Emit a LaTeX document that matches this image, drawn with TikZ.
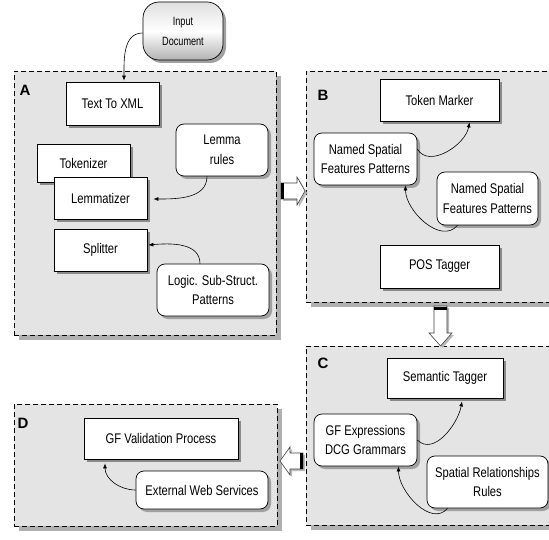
\documentclass[tikz,border=0pt]{standalone}
\usepackage{fontspec}
\setmainfont[FakeStretch=0.8]{Liberation Sans}
\newfontfamily\labfont{Liberation Sans}
\newfontfamily\smallfont[FakeStretch=0.76]{Liberation Sans}
\usetikzlibrary{shadows,arrows.meta}
\definecolor{panelfill}{HTML}{E4E4E4}
\definecolor{panelshadow}{HTML}{B0B0B0}
\definecolor{boxshadow}{HTML}{8A8A8A}
\definecolor{rboxshadow}{HTML}{A0A0A0}
\newcommand\dfont{\fontsize{14}{19.5}\selectfont}
\newcommand\sfont{\smallfont\fontsize{12}{20}\selectfont}
\begin{document}
\begin{tikzpicture}[x=1pt,y=-1pt,
  panel/.style={draw=black, fill=panelfill, line width=0.6pt, dash pattern=on 5pt off 3pt,
    drop shadow={shadow xshift=5pt, shadow yshift=-5pt, fill=panelshadow, opacity=1},
    inner sep=0pt},
  box/.style={draw=black, fill=white, line width=0.8pt, inner sep=0pt, align=center, font=\dfont,
    drop shadow={shadow xshift=3pt, shadow yshift=-3pt, fill=boxshadow, opacity=1}},
  rbox/.style={draw=black, fill=white, line width=0.7pt, inner sep=0pt, align=center, font=\dfont,
    rounded corners=8pt,
    drop shadow={shadow xshift=3pt, shadow yshift=-3pt, fill=rboxshadow, opacity=1}},
  lab/.style={font=\labfont\bfseries\fontsize{15}{15}\selectfont, inner sep=0pt},
  conn/.style={-{Latex[length=5pt,width=4pt]}, line width=0.6pt, black},
  blockarrow/.style={fill=white, draw=black!75, line width=0.6pt},
  blockshadow/.style={fill=gray!55, draw=none},
  tail/.style={line width=3pt, black}]
\useasboundingbox (0,0) rectangle (549,540);
\clip (0,0) rectangle (549,540);
\fill[white] (0,0) rectangle (549,540);

% panels
\node[panel, minimum width=262pt, minimum height=264pt] (pA) at (145,203) {};
\node[panel, minimum width=249pt, minimum height=231pt] (pB) at (430.5,186.5) {};
\node[panel, minimum width=249pt, minimum height=179pt] (pC) at (430.5,435.5) {};
\node[panel, minimum width=263pt, minimum height=122pt] (pD) at (145.5,465) {};

\node[lab] (lA) at (25,90) {A};
\node[lab] (lB) at (323,95) {B};
\node[lab] (lC) at (323,363) {C};
\node[lab] (lD) at (23,423) {D};

% input document
\node[draw=black, line width=0.7pt, rounded corners=16pt, minimum width=80pt, minimum height=58pt,
  top color=gray!25, bottom color=gray!60, middle color=white, align=center, font=\sfont, inner sep=0pt,
  drop shadow={shadow xshift=3pt, shadow yshift=-3pt, fill=rboxshadow, opacity=1}]
  (indoc) at (183,31) {Input\\Document};

% panel A
\node[box, minimum width=93pt, minimum height=43pt] (txml) at (112.5,103.5) {Text To XML};
\node[box, minimum width=93pt, minimum height=38pt] (tok) at (83.5,163) {Tokenizer};
\node[box, minimum width=93pt, minimum height=42pt] (lem) at (100.5,198) {Lemmatizer};
\node[box, minimum width=93pt, minimum height=42pt] (split) at (100.5,250) {Splitter};
\node[rbox, minimum width=92pt, minimum height=52pt] (lrules) at (222,150) {Lemma\\rules};
\node[rbox, minimum width=112pt, minimum height=52pt] (logic) at (213,290) {Logic. Sub-Struct.\\Patterns};

% panel B
\node[box, minimum width=119pt, minimum height=42pt] (tmark) at (439.5,100) {Token Marker};
\node[rbox, minimum width=103pt, minimum height=52pt] (nsf1) at (365.5,159) {Named Spatial\\Features Patterns};
\node[rbox, minimum width=101pt, minimum height=53pt] (nsf2) at (487.5,198.5) {Named Spatial\\Features Patterns};
\node[box, minimum width=119pt, minimum height=43pt] (pos) at (439.5,266.5) {POS Tagger};

% panel C
\node[box, minimum width=116pt, minimum height=40pt] (stag) at (445,378) {Semantic Tagger};
\node[rbox, minimum width=103pt, minimum height=52pt] (gfexp) at (365.5,440) {GF Expressions\\DCG Grammars};
\node[rbox, minimum width=121pt, minimum height=52pt] (srr) at (487.5,482) {Spatial Relationships\\Rules};

% panel D
\node[box, minimum width=154pt, minimum height=41pt] (gfval) at (161,438.5) {GF Validation Process};
\node[rbox, minimum width=132pt, minimum height=38pt] (ews) at (202,490) {External Web Services};

% connectors
\draw[conn] ([yshift=-2pt]indoc.west) to[out=180,in=90] ([xshift=11.5pt,yshift=1pt]txml.north);
\draw[conn] ([xshift=-15pt]lrules.south) to[out=-90,in=0] ([xshift=6pt,yshift=-1pt]lem.east);
\draw[conn] ([xshift=-13pt]logic.north) to[out=90,in=5] ([xshift=1pt,yshift=5pt]split.east);
\draw[conn] ([yshift=10pt]nsf1.east) to[out=-60,in=-100] ([xshift=30pt,yshift=-1pt]tmark.south);
\draw[conn] ([xshift=-30pt]nsf2.south) to[out=-130,in=-90] ([xshift=40pt]nsf1.south);
\draw[conn] (gfexp.east) to[out=-45,in=-100] ([xshift=17pt,yshift=-3pt]stag.south);
\draw[conn] ([xshift=-40pt]srr.south) to[out=-130,in=-90] ([xshift=33pt]gfexp.south);
\draw[conn] (ews.west) to[out=180,in=-90] ([xshift=-56pt,yshift=-4pt]gfval.south);

% block arrows between panels
\fill[blockshadow] (283,185) -- (299,185) -- (299,179) -- (307,193) -- (299,207) -- (299,201) -- (283,201) -- cycle;
\filldraw[blockarrow] (281,183) -- (297,183) -- (297,177) -- (305,191) -- (297,205) -- (297,199) -- (281,199) -- cycle;
\draw[tail] (282.5,183) -- (282.5,199);

\fill[blockshadow] (436,308) -- (449,308) -- (449,335) -- (454,335) -- (442.5,348) -- (431,335) -- (436,335) -- cycle;
\filldraw[blockarrow] (434,306) -- (447,306) -- (447,333) -- (452,333) -- (440.5,346) -- (429,333) -- (434,333) -- cycle;
\draw[tail] (434,308.5) -- (447,308.5);

\fill[blockshadow] (305,455) -- (292,455) -- (292,449) -- (282,463) -- (292,477) -- (292,471) -- (305,471) -- cycle;
\filldraw[blockarrow] (303,453) -- (290,453) -- (290,447) -- (280,461) -- (290,475) -- (290,469) -- (303,469) -- cycle;
\draw[tail] (301.5,453) -- (301.5,469);
\end{tikzpicture}
\end{document}
